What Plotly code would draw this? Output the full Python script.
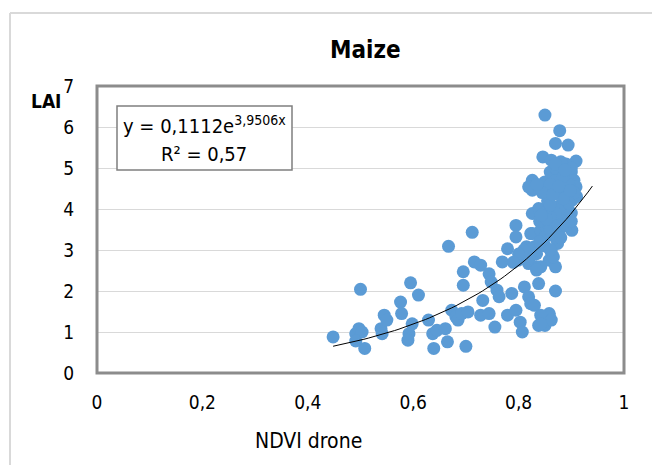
import numpy as np
import plotly.graph_objects as go

# NDVI (drone) vs LAI observations for maize
ndvi = [
    0.448, 0.491, 0.497, 0.503, 0.500, 0.508, 0.491, 0.539, 0.541, 0.545,
    0.550, 0.576, 0.578, 0.595, 0.610, 0.598, 0.592, 0.590, 0.629, 0.637,
    0.645, 0.639, 0.665, 0.667, 0.661, 0.673, 0.681, 0.685, 0.692, 0.700,
    0.695, 0.695, 0.704, 0.712, 0.716, 0.728, 0.732, 0.728, 0.744, 0.748,
    0.755, 0.744, 0.759, 0.763, 0.769, 0.779, 0.787, 0.779, 0.795, 0.795,
    0.795, 0.803, 0.807, 0.799, 0.807, 0.815, 0.819, 0.823, 0.811, 0.819,
    0.823, 0.830, 0.838, 0.850, 0.858, 0.838, 0.834, 0.834, 0.830, 0.826,
    0.826, 0.838, 0.826, 0.826, 0.819, 0.850, 0.878, 0.870, 0.894, 0.846,
    0.862, 0.909, 0.850, 0.874, 0.882, 0.890, 0.897, 0.905, 0.909, 0.901,
    0.858, 0.866, 0.878, 0.882, 0.858, 0.842, 0.850, 0.866, 0.882, 0.893,
    0.901, 0.874, 0.862, 0.858, 0.870, 0.866, 0.842, 0.834, 0.870, 0.858,
    0.842, 0.862, 0.842,
    0.860, 0.870, 0.880, 0.870, 0.860, 0.890, 0.890, 0.880, 0.870, 0.860,
    0.850, 0.850, 0.860, 0.870, 0.880, 0.900, 0.910, 0.900, 0.890, 0.880,
    0.870, 0.855, 0.845, 0.860, 0.875, 0.890, 0.900, 0.895, 0.885, 0.900,
    0.870, 0.835, 0.840, 0.850, 0.860, 0.840, 0.830, 0.820, 0.810, 0.800,
    0.790, 0.905, 0.895, 0.885, 0.865, 0.853, 0.843, 0.876, 0.888, 0.898,
]
lai = [
    0.88, 0.96, 1.08, 1.00, 2.04, 0.60, 0.78, 1.08, 0.96, 1.41,
    1.29, 1.73, 1.45, 2.20, 1.90, 1.20, 0.96, 0.80, 1.29, 0.96,
    1.04, 0.60, 0.76, 3.09, 1.08, 1.53, 1.37, 1.29, 1.45, 0.65,
    2.47, 2.14, 1.49, 3.43, 2.71, 2.63, 1.77, 1.41, 2.42, 2.22,
    1.12, 1.45, 2.02, 1.86, 2.71, 3.03, 1.94, 1.41, 3.60, 3.32,
    1.53, 1.24, 1.00, 2.75, 2.91, 3.08, 2.67, 3.40, 2.10, 1.86,
    1.69, 1.65, 1.16, 1.16, 1.41, 2.18, 2.59, 2.91, 3.08, 3.40,
    3.89, 4.01, 4.70, 4.46, 4.54, 6.29, 5.91, 5.60, 5.56, 5.27,
    5.19, 5.17, 4.66, 5.03, 4.87, 4.70, 4.54, 4.70, 4.54, 4.21,
    4.30, 4.05, 3.89, 3.73, 3.69, 3.48, 3.32, 3.48, 3.56, 3.69,
    3.48, 3.16, 2.95, 2.75, 2.59, 2.83, 2.59, 2.51, 2.00, 1.45,
    1.41, 1.29, 1.20,
    4.90, 4.70, 4.50, 4.40, 4.60, 4.30, 4.00, 4.10, 3.90, 3.80,
    3.90, 3.60, 3.50, 3.30, 3.30, 3.90, 4.30, 4.90, 5.10, 5.15,
    5.00, 4.20, 4.40, 4.10, 3.60, 3.60, 3.70, 4.60, 4.80, 5.00,
    5.10, 4.60, 3.70, 3.10, 3.00, 3.20, 2.90, 2.80, 3.00, 2.90,
    2.70, 4.40, 4.15, 4.25, 4.35, 3.75, 3.85, 4.55, 4.95, 4.45,
]

# Exponential trend line: y = a * exp(b * x)
fit_a = 0.1112
fit_b = 3.9506
fit_r2 = "0,57"
fit_x = np.linspace(0.448, 0.94, 60)
fit_y = fit_a * np.exp(fit_b * fit_x)

x_ticks = [0, 0.2, 0.4, 0.6, 0.8, 1]
x_labels = ["0", "0,2", "0,4", "0,6", "0,8", "1"]
y_ticks = [0, 1, 2, 3, 4, 5, 6, 7]
y_labels = ["0", "1", "2", "3", "4", "5", "6", "7"]

FONT = "Liberation Sans Narrow, DejaVu Sans Condensed, DejaVu Sans, sans-serif"

fig = go.Figure()
fig.add_trace(go.Scatter(
    x=ndvi, y=lai, mode="markers",
    marker=dict(color="#5b9bd5", size=13, line=dict(width=0)),
    showlegend=False, hoverinfo="x+y",
))
fig.add_trace(go.Scatter(
    x=fit_x, y=fit_y, mode="lines",
    line=dict(color="black", width=1),
    showlegend=False, hoverinfo="skip",
))

L, R, T, B = 97, 28, 86, 92
W, H = 652, 465
pw, ph = W - L - R, H - T - B

def px_x(p):
    return (p - L) / pw

def px_y(p):
    return (H - B - p) / ph

shapes = [
    # chart-area frame
    dict(type="line", xref="paper", yref="paper", x0=px_x(10), x1=px_x(10),
         y0=px_y(13), y1=px_y(470), line=dict(color="#d9d9d9", width=2)),
    dict(type="line", xref="paper", yref="paper", x0=px_x(10), x1=px_x(660),
         y0=px_y(13), y1=px_y(13), line=dict(color="#d9d9d9", width=2)),
    # plot-area border
    dict(type="rect", xref="paper", yref="paper", x0=0, x1=1, y0=0, y1=1,
         line=dict(color="#8c8c8c", width=3), layer="above"),
    # equation box
    dict(type="rect", xref="paper", yref="paper",
         x0=px_x(117), x1=px_x(292), y0=px_y(170), y1=px_y(106),
         line=dict(color="#7f7f7f", width=1.5), fillcolor="white", layer="above"),
]


def label(text, cx, cy, size, bold=False):
    return dict(text=f"<b>{text}</b>" if bold else text,
                xref="paper", yref="paper", x=px_x(cx), y=px_y(cy),
                xanchor="center", yanchor="middle", showarrow=False,
                font=dict(family=FONT, size=size, color="black"))


annotations = [
    label("Maize", 366, 50, 24, bold=True),
    label("LAI", 46, 101, 19, bold=True),
    label("NDVI drone", 308, 441, 21),
    label("y = 0,1112e<sup>3,9506x</sup>", 204, 125, 20),
    label(f"R² = {fit_r2}", 204, 154, 20),
]

fig.update_layout(
    width=W, height=H,
    margin=dict(l=L, r=R, t=T, b=B),
    paper_bgcolor="white", plot_bgcolor="white",
    shapes=shapes, annotations=annotations,
    font=dict(family=FONT, size=19, color="black"),
    xaxis=dict(range=[0, 1], tickvals=x_ticks, ticktext=x_labels,
               showgrid=False, zeroline=False, showline=False,
               ticks="", ticklabelstandoff=16, fixedrange=True),
    yaxis=dict(range=[0, 7], tickvals=y_ticks, ticktext=y_labels,
               showgrid=True, gridcolor="#d9d9d9", gridwidth=1,
               zeroline=False, showline=False, ticks="",
               ticklabelstandoff=22, fixedrange=True),
)

fig.write_html("out.html")
